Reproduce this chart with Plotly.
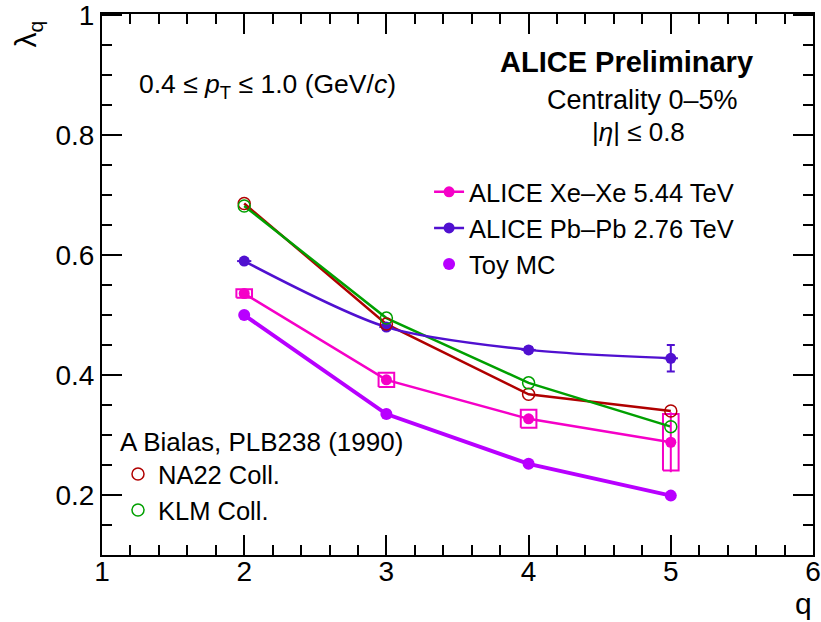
import plotly.graph_objects as go

# ---- data ----
q = [2, 3, 4, 5]
xexe = [0.536, 0.392, 0.327, 0.288]
xexe_stat = [0.004, 0.006, 0.008, 0.050]
xexe_sys = [0.007, 0.012, 0.015, 0.047]
pbpb = [0.590, 0.480, 0.442, 0.428]
pbpb_err = [0.004, 0.005, 0.005, 0.022]
pbpb_xerr = [0.05, 0.05, 0.05, 0.05]
toy = [0.500, 0.335, 0.252, 0.199]
na22 = [0.686, 0.485, 0.368, 0.340]
klm = [0.682, 0.495, 0.387, 0.314]

xticks = [1, 2, 3, 4, 5, 6]
xticklabels = ["1", "2", "3", "4", "5", "6"]
yticks = [0.2, 0.4, 0.6, 0.8, 1.0]
yticklabels = ["0.2", "0.4", "0.6", "0.8", "1"]
x_minor = [round(1 + 0.2 * i, 3) for i in range(26) if i % 5 != 0]
y_minor = [round(0.1 + 0.05 * i, 3) for i in range(19) if round(0.1 + 0.05 * i, 3) not in yticks]

# ---- style ----
C_XE = "#f500c8"
C_PB = "#5010d0"
C_TOY = "#b800ff"
C_NA = "#b00000"
C_KLM = "#00a000"
FONT = "Liberation Sans, Arial, Helvetica, sans-serif"
BOX_HW = 0.055

fig = go.Figure()

# systematic boxes for Xe-Xe
bx, by = [], []
for xi, yi, si in zip(q, xexe, xexe_sys):
    bx += [xi - BOX_HW, xi + BOX_HW, xi + BOX_HW, xi - BOX_HW, xi - BOX_HW, None]
    by += [yi - si, yi - si, yi + si, yi + si, yi - si, None]
fig.add_trace(go.Scatter(x=bx, y=by, mode="lines", line=dict(color=C_XE, width=2),
                         showlegend=False, hoverinfo="skip"))

# reference lines (no legend)
fig.add_trace(go.Scatter(x=q, y=na22, mode="lines", line=dict(color=C_NA, width=2.5),
                         showlegend=False))
fig.add_trace(go.Scatter(x=q, y=klm, mode="lines", line=dict(color=C_KLM, width=2.5),
                         showlegend=False))
fig.add_trace(go.Scatter(x=q, y=toy, mode="lines", line=dict(color=C_TOY, width=4),
                         showlegend=False))

# ALICE data
fig.add_trace(go.Scatter(
    x=q, y=xexe, mode="lines+markers", name="ALICE Xe\u2013Xe 5.44 TeV",
    line=dict(color=C_XE, width=2.5),
    marker=dict(color=C_XE, size=11, symbol="circle"),
    error_y=dict(type="data", array=xexe_stat, color=C_XE, thickness=2, width=0),
    legend="legend"))
fig.add_trace(go.Scatter(
    x=q, y=pbpb, mode="lines+markers", name="ALICE Pb\u2013Pb 2.76 TeV",
    line=dict(color=C_PB, width=2.5, shape="spline", smoothing=0.8),
    marker=dict(color=C_PB, size=11, symbol="circle"),
    error_y=dict(type="data", array=pbpb_err, color=C_PB, thickness=2, width=4),
    error_x=dict(type="data", array=pbpb_xerr, color=C_PB, thickness=2, width=0),
    legend="legend"))
fig.add_trace(go.Scatter(
    x=q, y=toy, mode="markers", name="Toy MC",
    marker=dict(color=C_TOY, size=12, symbol="circle"),
    legend="legend"))

# Bialas points
fig.add_trace(go.Scatter(
    x=q, y=na22, mode="markers", name="NA22 Coll.",
    marker=dict(color=C_NA, size=12, symbol="circle-open", line=dict(width=1.5)),
    legend="legend2"))
fig.add_trace(go.Scatter(
    x=q, y=klm, mode="markers", name="KLM Coll.",
    marker=dict(color=C_KLM, size=12, symbol="circle-open", line=dict(width=1.5)),
    legend="legend2"))

axis_common = dict(
    showline=True, linecolor="black", linewidth=2, mirror="ticks",
    ticks="inside", tickcolor="black", tickwidth=2, ticklen=20,
    showgrid=False, zeroline=False, automargin=False,
    ticklabeloverflow="allow",
    tickfont=dict(family=FONT, size=28, color="black"),
)

fig.update_xaxes(range=[1, 6], tickmode="array", tickvals=xticks, ticktext=xticklabels,
                 ticklabelstandoff=-10,
                 minor=dict(ticks="inside", ticklen=10, tickmode="array", tickvals=x_minor,
                            tickcolor="black", tickwidth=2, showgrid=False),
                 **axis_common)
fig.update_yaxes(range=[0.1, 1.002], tickmode="array", tickvals=yticks, ticktext=yticklabels,
                 minor=dict(ticks="inside", ticklen=10, tickmode="array", tickvals=y_minor,
                            tickcolor="black", tickwidth=2, showgrid=False),
                 **axis_common)

ann = [
    dict(text="<b>ALICE Preliminary</b>", x=0.918, y=0.911, xanchor="right", yanchor="middle",
         font=dict(size=29)),
    dict(text="Centrality 0\u20135%", x=0.7595, y=0.841, xanchor="center", yanchor="middle",
         font=dict(size=27)),
    dict(text="|<i>\u03b7</i>| \u2264 0.8", x=0.754, y=0.782, xanchor="center", yanchor="middle",
         font=dict(size=26)),
    dict(text="0.4 \u2264 <i>p</i><sub>T</sub> \u2264 1.0 (GeV/<i>c</i>)", x=0.049, y=0.867,
         xanchor="left", yanchor="middle", font=dict(size=26.5)),
    dict(text="\u03bb<sub>q</sub>", x=-0.104, y=0.962, xanchor="center", yanchor="middle",
         textangle=-90, font=dict(size=30)),
    dict(text="q", x=0.986, y=-0.089, xanchor="center", yanchor="middle",
         font=dict(size=30)),
]
for a in ann:
    a.update(xref="paper", yref="paper", showarrow=False)
    a["font"].update(family=FONT, color="black")

fig.update_layout(
    width=821, height=622,
    margin=dict(l=102, r=8, t=14, b=67),
    plot_bgcolor="white", paper_bgcolor="white",
    annotations=ann,
    font=dict(family=FONT, color="black"),
    legend=dict(x=0.46, y=0.714, xanchor="left", yanchor="top",
                bgcolor="rgba(0,0,0,0)", font=dict(family=FONT, size=25.5, color="black"),
                itemwidth=30, tracegroupgap=0),
    legend2=dict(x=0.0225, y=0.255, xanchor="left", yanchor="top",
                 bgcolor="rgba(0,0,0,0)", font=dict(family=FONT, size=25.5, color="black"),
                 title=dict(text="A Bialas, PLB238 (1990)",
                            font=dict(family=FONT, size=26, color="black"), side="top"),
                 itemwidth=30),
)

fig.write_html("out.html")
